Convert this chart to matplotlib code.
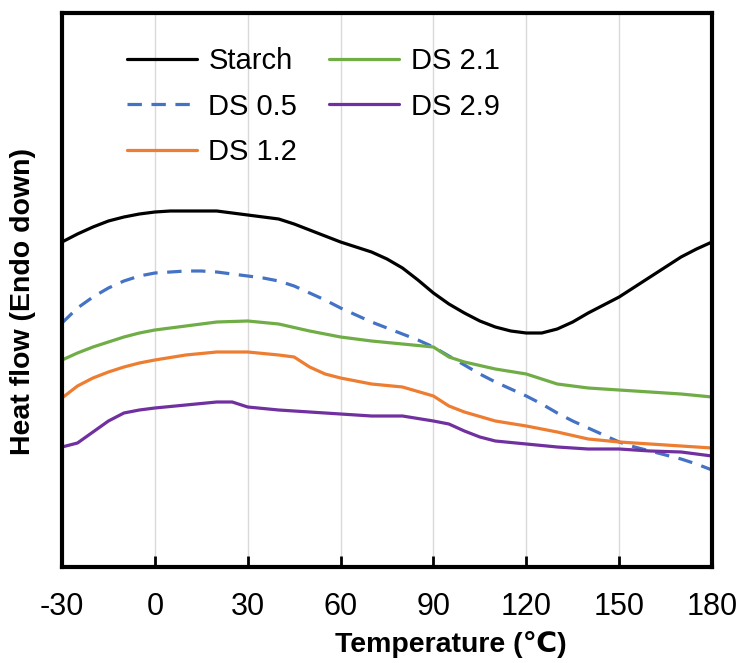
import matplotlib
matplotlib.use("Agg")
import matplotlib.pyplot as plt

plt.rcParams['font.family'] = ['Liberation Sans', 'DejaVu Sans']

# Temperature (°C) sample points for Starch and DS 0.5
temp = [-30, -25, -20, -15, -10, -5, 0, 5, 10, 15, 20, 25, 30, 35, 40, 45, 50, 55, 60, 65, 70,
        75, 80, 85, 90, 95, 100, 105, 110, 115, 120, 125, 130, 135, 140, 145, 150, 155, 160,
        165, 170, 175, 180]

# Heat flow (arbitrary units, endo down)
starch = [3.25, 3.33, 3.40, 3.46, 3.50, 3.53, 3.55, 3.56, 3.56, 3.56, 3.56, 3.54, 3.52, 3.50, 3.48,
          3.43, 3.37, 3.31, 3.25, 3.20, 3.15, 3.08, 2.99, 2.87, 2.74, 2.63, 2.54, 2.46, 2.40, 2.36,
          2.34, 2.34, 2.38, 2.45, 2.54, 2.62, 2.70, 2.80, 2.90, 3.00, 3.10, 3.18, 3.25]
ds05 = [2.44, 2.59, 2.70, 2.79, 2.86, 2.91, 2.94, 2.95, 2.96, 2.96, 2.95, 2.93, 2.91, 2.89, 2.86,
        2.81, 2.74, 2.67, 2.59, 2.52, 2.45, 2.39, 2.33, 2.27, 2.20, 2.11, 2.02, 1.93, 1.85, 1.78,
        1.71, 1.63, 1.54, 1.46, 1.39, 1.32, 1.25, 1.20, 1.16, 1.12, 1.08, 1.03, 0.97]

ds21_t = [-30, -25, -20, -15, -10, -5, 0, 10, 20, 30, 40, 50, 60, 70, 80, 90, 95, 100, 110, 120,
          125, 130, 140, 150, 160, 170, 180]
ds21 = [2.07, 2.14, 2.20, 2.25, 2.30, 2.34, 2.37, 2.41, 2.45, 2.46, 2.43, 2.36, 2.30, 2.26, 2.23,
        2.20, 2.10, 2.05, 1.98, 1.93, 1.88, 1.83, 1.79, 1.77, 1.75, 1.73, 1.70]

ds12_t = [-30, -25, -20, -15, -10, -5, 0, 10, 20, 30, 40, 45, 50, 55, 60, 70, 80, 90, 95, 100,
          110, 120, 130, 140, 150, 160, 170, 180]
ds12 = [1.69, 1.81, 1.89, 1.95, 2.00, 2.04, 2.07, 2.12, 2.15, 2.15, 2.12, 2.10, 2.00, 1.93, 1.89,
        1.83, 1.80, 1.71, 1.61, 1.55, 1.46, 1.41, 1.35, 1.28, 1.25, 1.23, 1.21, 1.19]

ds29_t = [-30, -25, -20, -15, -10, -5, 0, 10, 20, 25, 30, 40, 50, 60, 70, 80, 90, 95, 100, 105,
          110, 120, 130, 140, 150, 160, 170, 180]
ds29 = [1.20, 1.24, 1.35, 1.46, 1.54, 1.57, 1.59, 1.62, 1.65, 1.65, 1.60, 1.57, 1.55, 1.53, 1.51,
        1.51, 1.46, 1.43, 1.36, 1.30, 1.26, 1.23, 1.20, 1.18, 1.18, 1.16, 1.15, 1.11]

xticks = [-30, 0, 30, 60, 90, 120, 150, 180]

W, H = 742, 663
fig = plt.figure(figsize=(W / 100, H / 100), dpi=100)
ax = fig.add_axes([62 / W, 1 - 567 / H, (712 - 62) / W, (567 - 13) / H])

kw = dict(lw=2.3, solid_joinstyle='round', solid_capstyle='round')
ax.plot(temp, starch, color='black', label='Starch', **kw)
ax.plot(temp, ds05, color='#4472C4', lw=2.3, ls=(0, (4.5, 3)), label='DS 0.5')
ax.plot(ds12_t, ds12, color='#ED7D31', label='DS 1.2', **kw)
ax.plot(ds21_t, ds21, color='#70AD47', label='DS 2.1', **kw)
ax.plot(ds29_t, ds29, color='#7030A0', label='DS 2.9', **kw)

ax.set_xlim(-30, 180)
ax.set_ylim(0, 5.54)
ax.set_xticks(xticks)
ax.set_xticklabels([str(v) for v in xticks])
ax.set_yticks([])
ax.grid(axis='x', color='#d9d9d9', lw=1)
ax.set_axisbelow(True)
ax.tick_params(axis='x', direction='in', length=8, width=2, labelsize=22, pad=18, colors='black')
for s in ax.spines.values():
    s.set_linewidth(3)
    s.set_color('black')

fig.text(451 / W, 1 - 644 / H, 'Temperature (℃)', fontsize=20.5, fontweight='bold',
         ha='center', va='center')
fig.text(23 / W, 1 - 302 / H, 'Heat flow (Endo down)', fontsize=20.5, fontweight='bold',
         ha='center', va='center', rotation=90)

ax.legend(ncol=2, loc='upper left', bbox_to_anchor=(0.059, 0.986), frameon=False,
          fontsize=21, handlelength=2.4, columnspacing=1.1, labelspacing=0.6, handletextpad=0.4)

fig.savefig('out.png', dpi=100)
